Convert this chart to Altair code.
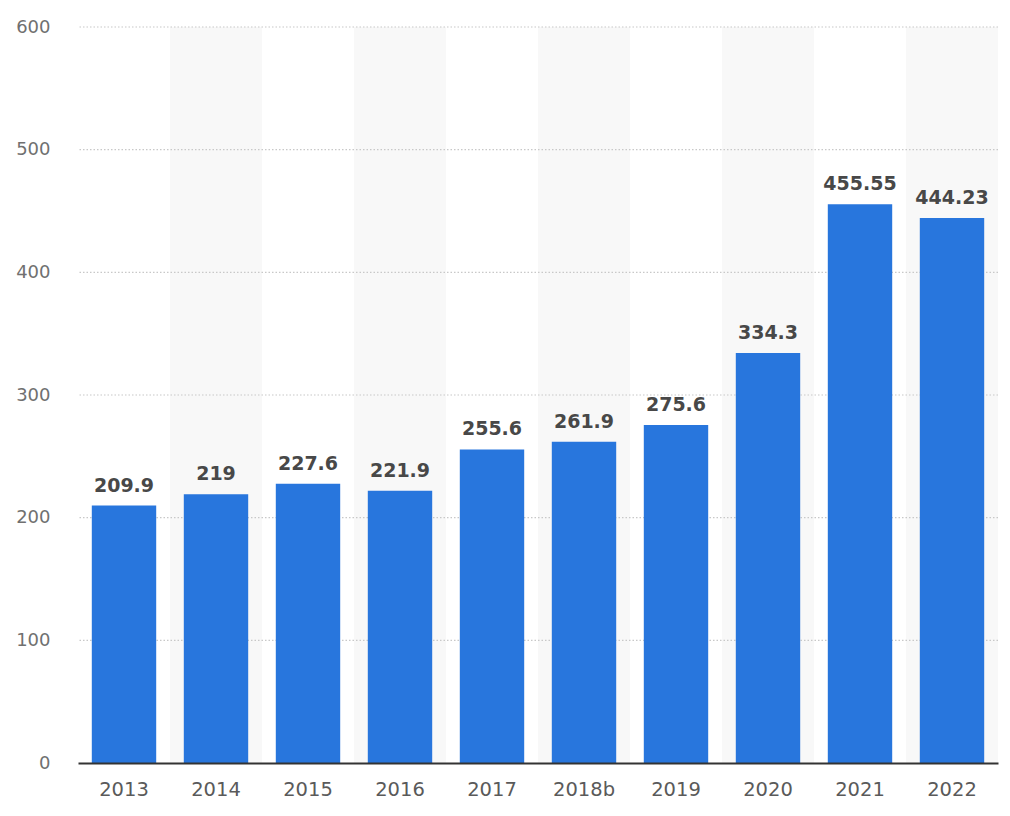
import altair as alt
import pandas as pd

years = ["2013", "2014", "2015", "2016", "2017", "2018b", "2019", "2020", "2021", "2022"]
values = [209.9, 219, 227.6, 221.9, 255.6, 261.9, 275.6, 334.3, 455.55, 444.23]
labels = ["209.9", "219", "227.6", "221.9", "255.6", "261.9", "275.6", "334.3", "455.55", "444.23"]
shaded = ["2014", "2016", "2018b", "2020", "2022"]
grid_vals = [100, 200, 300, 400, 500, 600]

df = pd.DataFrame({"year": years, "value": values, "label": labels})
bg = pd.DataFrame({"year": shaded, "top": [600] * len(shaded)})
grid = pd.DataFrame({"v": grid_vals})

FONT = "DejaVu Sans"
xscale = alt.Scale(domain=years, paddingInner=0.3, paddingOuter=0.15)
yscale = alt.Scale(domain=[0, 600], nice=False)

x_enc = alt.X("year:N", scale=xscale, sort=years, title=None,
              axis=alt.Axis(labelAngle=0, labelFont=FONT, labelFontSize=19.5, labelColor="#5a5a5a",
                            labelPadding=17, ticks=False, domainColor="#333333", domainWidth=2,
                            grid=False, zindex=1))

bands = alt.Chart(bg).mark_bar(color="#f8f8f8", width=alt.RelativeBandSize(1 / 0.7)).encode(
    x=x_enc,
    y=alt.Y("top:Q", scale=yscale, title=None,
            axis=alt.Axis(values=grid_vals + [0], labelFont=FONT, labelFontSize=18, labelColor="#707070",
                          labelPadding=28, ticks=False, domain=False, grid=False)),
)

rules = alt.Chart(grid).mark_rule(color="#c8c8c8", strokeDash=[1.5, 2], strokeWidth=1.2).encode(
    y=alt.Y("v:Q", scale=yscale),
)

bars = alt.Chart(df).mark_bar(color="#2876dd").encode(
    x=alt.X("year:N", scale=xscale, sort=years),
    y=alt.Y("value:Q", scale=yscale),
)

text = alt.Chart(df).mark_text(font=FONT, fontSize=19, fontWeight="bold", color="#484848",
                               baseline="alphabetic", dy=-14).encode(
    x=alt.X("year:N", scale=xscale, sort=years),
    y=alt.Y("value:Q", scale=yscale),
    text="label:N",
)

chart = alt.layer(bands, rules, bars, text).properties(
    width=920, height=736,
    autosize=alt.AutoSizeParams(type="none"),
    padding={"left": 70, "top": 19, "right": 4, "bottom": 50},
).configure_view(stroke=None)

chart.save("out.html", embed_options={"renderer": "svg", "actions": False})
